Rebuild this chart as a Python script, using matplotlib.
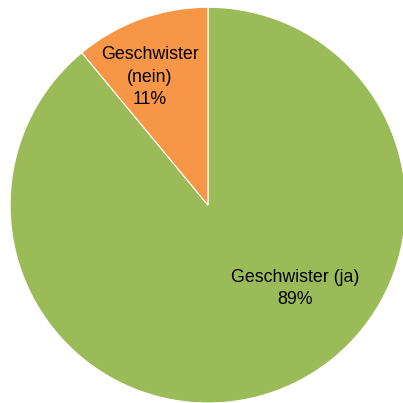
import numpy as np
import matplotlib.pyplot as plt

plt.rcParams['font.family'] = ['Liberation Sans', 'DejaVu Sans']

labels = ['Geschwister (ja)', 'Geschwister\n(nein)']
values = [89, 11]
colors = ['#9BBB59', '#F79646']

fig = plt.figure(figsize=(4.03, 4.03), dpi=100)
ax = fig.add_axes([0.025, 0.0, 0.982, 0.982])

wedges, _ = ax.pie(values, colors=colors, startangle=90, counterclock=False,
                   wedgeprops=dict(edgecolor='white', linewidth=0.8))
ax.set_xlim(-1, 1)
ax.set_ylim(-1, 1)
ax.set_aspect('equal')
ax.axis('off')

# label placement (radius, angle in degrees) for each wedge
label_pos = [(0.607, -43.7), (0.71, 114.4)]
for lab, val, (r, a) in zip(labels, values, label_pos):
    x = r * np.cos(np.radians(a))
    y = r * np.sin(np.radians(a))
    ax.text(x, y, f'{lab}\n{val}%', ha='center', va='center',
            fontsize=12.8, linespacing=1.4, color='black')

fig.savefig('out.png', dpi=100)
